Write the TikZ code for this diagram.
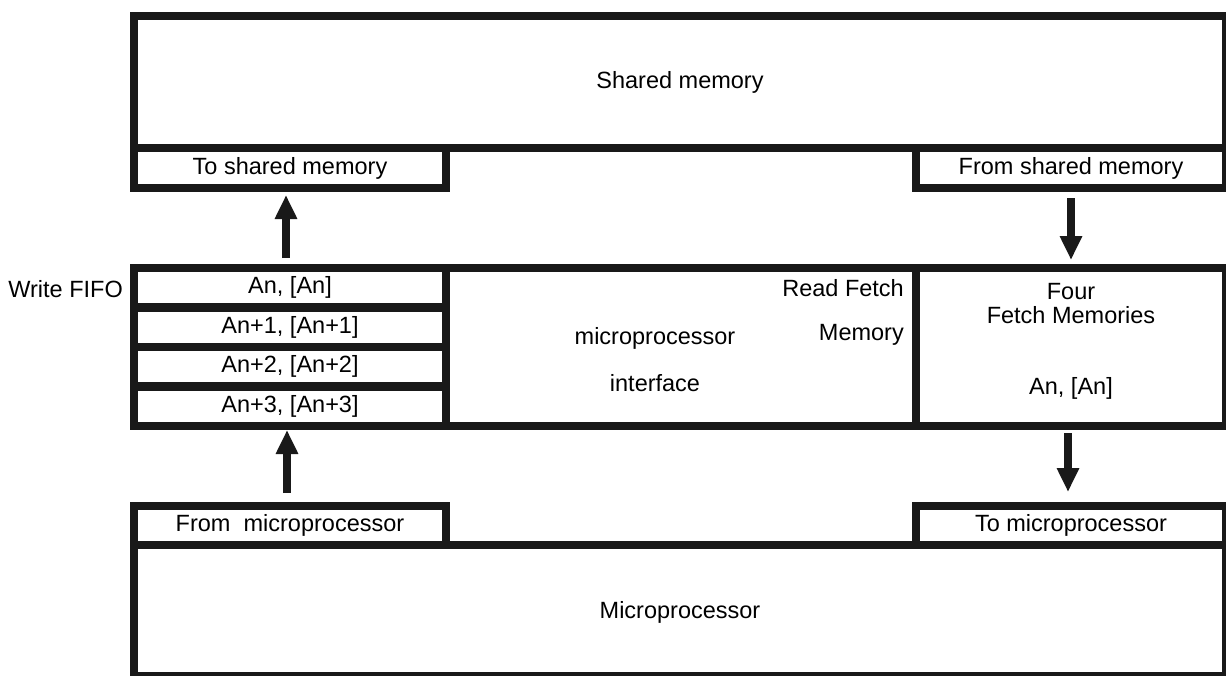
\documentclass[tikz,border=0pt]{standalone}
\usepackage{fontspec}
\setmainfont{Liberation Sans}
\usetikzlibrary{arrows.meta,positioning}
\tikzset{
  box/.style={draw=black!90, line width=8.5pt, fill=white, inner sep=0pt, outer sep=0pt, anchor=north west},
  txt/.style={inner sep=0pt, font=\fontsize{23.5}{24}\selectfont},
  arr/.style={line width=8pt, draw=black!90, -{Triangle[width=21pt,length=24pt]}},
}
\begin{document}
\begin{tikzpicture}[x=1pt,y=-1pt, font=\fontsize{23.5}{24}\selectfont]
\useasboundingbox (0,0) rectangle (1226,675);
% shared memory
\node[box, minimum width=1092pt, minimum height=132pt] (shm) at (134,16) {};
\node[txt] (shmt) at (680,82) {Shared memory};
\node[box, minimum width=312pt, minimum height=40pt] (toshm) at (134,148) {};
\node[txt] at (toshm.center) {To shared memory};
\node[box, minimum width=310pt, minimum height=40pt] (fromshm) at (916,148) {};
\node[txt] at (fromshm.center) {From shared memory};
% middle
\node[box, minimum width=312pt, minimum height=39.5pt] (f1) at (134,268) {};
\node[box, minimum width=312pt, minimum height=39.5pt] (f2) at (134,307.5) {};
\node[box, minimum width=312pt, minimum height=39.5pt] (f3) at (134,347) {};
\node[box, minimum width=312pt, minimum height=39.5pt] (f4) at (134,386.5) {};
\node[txt] at (f1.center) {An, [An]};
\node[txt] at (f2.center) {An+1, [An+1]};
\node[txt] at (f3.center) {An+2, [An+2]};
\node[txt] at (f4.center) {An+3, [An+3]};
\node[txt, anchor=east] (wf) at (123,289) {Write FIFO};
\node[box, minimum width=470pt, minimum height=158pt] (mpi) at (446,268) {};
\node[txt] (mpit1) at (655,338) {microprocessor};
\node[txt] (mpit2) at (655,383) {interface};
\node[txt, anchor=east] (rf1) at (904,288) {Read Fetch};
\node[txt, anchor=east] (rf2) at (904,335) {Memory};
\node[box, minimum width=310pt, minimum height=158pt] (fetch) at (916,268) {};
\node[txt] (ff1) at (1071,292) {Four};
\node[txt] (ff2) at (1071,315) {Fetch Memories};
\node[txt] (ff3) at (1071,388) {An, [An]};
% bottom
\node[box, minimum width=312pt, minimum height=39pt] (frommp) at (134,506) {};
\node[txt] at (frommp.center) {From\ \ microprocessor};
\node[box, minimum width=310pt, minimum height=39pt] (tomp) at (916,506) {};
\node[txt] at (tomp.center) {To microprocessor};
\node[box, minimum width=1092pt, minimum height=131pt] (mp) at (134,545) {};
\node[txt] (mpt) at (680,612) {Microprocessor};
% arrows
\draw[arr, shorten <=10pt, shorten >=7pt] ([xshift=-4pt]f1.north) -- ([xshift=-4pt]toshm.south);
\draw[arr, shorten <=13pt, shorten >=4pt] ([xshift=-3pt]frommp.north) -- ([xshift=-3pt]f4.south);
\draw[arr, shorten <=10pt, shorten >=8pt] (fromshm.south) -- (fetch.north);
\draw[arr, shorten <=7pt, shorten >=14pt] ([xshift=-3pt]fetch.south) -- ([xshift=-3pt]tomp.north);
\end{tikzpicture}
\end{document}
